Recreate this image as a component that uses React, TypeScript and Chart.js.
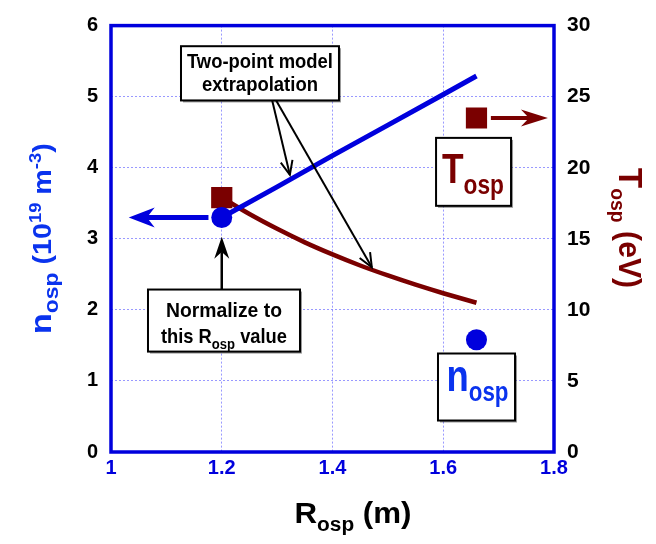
import React, { useEffect, useRef } from 'react';
import { Chart, registerables } from 'chart.js';

Chart.register(...registerables);

// ---------- data ----------
const xTickValues = [1, 1.2, 1.4, 1.6, 1.8];
const nTickValues = [0, 1, 2, 3, 4, 5, 6];
const tTickValues = [0, 5, 10, 15, 20, 25, 30];

// two-point model extrapolation, density (left axis, 1e19 m^-3)
const densLineR = [1.2, 1.3, 1.4, 1.5, 1.6, 1.66];
const densLineN = [3.3, 3.73, 4.17, 4.6, 5.03, 5.29];

// two-point model extrapolation, temperature (right axis, eV)
const tempCurveR = [1.2, 1.25, 1.3, 1.35, 1.4, 1.45, 1.5, 1.55, 1.6, 1.66];
const tempCurveT = [17.9, 16.74, 15.7, 14.75, 13.9, 13.12, 12.42, 11.77, 11.17, 10.5];

// measured / normalisation points
const densPointR = [1.2, 1.66];
const densPointN = [3.3, 1.58];
const tempPointR = [1.2, 1.66];
const tempPointT = [17.9, 23.5];

// ---------- styling ----------
const FONT = '"Liberation Sans", Arial, Helvetica, sans-serif';
const BLUE = '#0000dd';
const TEXTBLUE = '#0a33ee';
const MAROON = '#7a0000';
const GRID = 'rgba(110,110,255,0.7)';

type Run = { t: string; size: number; dy?: number };

function drawRich(
  ctx: CanvasRenderingContext2D,
  runs: Run[],
  x: number,
  y: number,
  color: string,
  angle = 0,
  fit?: number,
  kv = 1
) {
  ctx.save();
  let W = 0;
  const ws = runs.map((r) => {
    ctx.font = `bold ${r.size}px ${FONT}`;
    const w = ctx.measureText(r.t).width;
    W += w;
    return w;
  });
  const s = fit ? fit / W : 1;
  ctx.translate(x, y);
  ctx.rotate(angle);
  ctx.scale(s, kv);
  ctx.fillStyle = color;
  ctx.textAlign = 'left';
  ctx.textBaseline = 'alphabetic';
  let cx = -W / 2;
  runs.forEach((r, i) => {
    ctx.font = `bold ${r.size}px ${FONT}`;
    ctx.fillText(r.t, cx, r.dy || 0);
    cx += ws[i];
  });
  ctx.restore();
}

function arrow(
  ctx: CanvasRenderingContext2D,
  x1: number,
  y1: number,
  x2: number,
  y2: number,
  color: string,
  lw: number,
  hl: number,
  hw: number,
  open = false
) {
  const a = Math.atan2(y2 - y1, x2 - x1);
  ctx.save();
  ctx.strokeStyle = color;
  ctx.fillStyle = color;
  ctx.lineWidth = lw;
  const back = open ? 0 : hl * 0.7;
  ctx.beginPath();
  ctx.moveTo(x1, y1);
  ctx.lineTo(x2 - Math.cos(a) * back, y2 - Math.sin(a) * back);
  ctx.stroke();
  ctx.translate(x2, y2);
  ctx.rotate(a);
  ctx.beginPath();
  if (open) {
    ctx.moveTo(-hl, -hw);
    ctx.lineTo(0, 0);
    ctx.lineTo(-hl, hw);
    ctx.stroke();
  } else {
    ctx.moveTo(0, 0);
    ctx.lineTo(-hl, -hw);
    ctx.lineTo(-hl * 0.7, 0);
    ctx.lineTo(-hl, hw);
    ctx.closePath();
    ctx.fill();
  }
  ctx.restore();
}

function box(ctx: CanvasRenderingContext2D, x1: number, y1: number, x2: number, y2: number) {
  ctx.save();
  ctx.fillStyle = 'rgba(0,0,0,0.4)';
  ctx.fillRect(x1 + 2, y1 + 2, x2 - x1, y2 - y1);
  ctx.fillStyle = '#ffffff';
  ctx.fillRect(x1, y1, x2 - x1, y2 - y1);
  ctx.strokeStyle = '#000000';
  ctx.lineWidth = 2;
  ctx.strokeRect(x1, y1, x2 - x1, y2 - y1);
  ctx.restore();
}

const framePlugin = {
  id: 'frame',
  beforeDatasetsDraw(chart: any) {
    const { ctx, chartArea: a } = chart;
    ctx.save();
    ctx.strokeStyle = BLUE;
    ctx.lineWidth = 3.5;
    ctx.strokeRect(a.left, a.top, a.right - a.left, a.bottom - a.top);
    ctx.restore();
  },
};

const annotationPlugin = {
  id: 'annotations',
  afterDatasetsDraw(chart: any) {
    const ctx: CanvasRenderingContext2D = chart.ctx;
    const X = (v: number) => chart.scales.x.getPixelForValue(v);
    const Y = (v: number) => chart.scales.y.getPixelForValue(v);
    const YT = (v: number) => chart.scales.y1.getPixelForValue(v);

    // arrows showing which axis each point belongs to
    arrow(ctx, X(1.176), Y(densPointN[0]), X(1.032), Y(densPointN[0]), BLUE, 5, 26, 10);
    arrow(ctx, X(1.686), YT(tempPointT[1]), X(1.789), YT(tempPointT[1]), MAROON, 4, 27, 8.5);

    // "Two-point model extrapolation" box and leaders
    arrow(ctx, X(1.291), Y(4.95), X(1.323), Y(3.9), '#000', 2, 14, 6, true);
    arrow(ctx, X(1.298), Y(4.95), X(1.471), Y(2.6), '#000', 2, 14, 6, true);
    box(ctx, X(1.1264), Y(5.71), X(1.4117), Y(4.947));
    drawRich(ctx, [{ t: 'Two-point model', size: 21 }], X(1.269), Y(5.41), '#000', 0, 146);
    drawRich(ctx, [{ t: 'extrapolation', size: 21 }], X(1.269), Y(5.075), '#000', 0, 116);

    // "Normalize to this R_osp value" box and arrow
    arrow(ctx, X(1.2), Y(2.286), X(1.2), Y(3.03), '#000', 2.5, 22, 7.5);
    box(ctx, X(1.0668), Y(2.286), X(1.3413), Y(1.413));
    drawRich(ctx, [{ t: 'Normalize to', size: 21 }], X(1.204), Y(1.9), '#000', 0, 116);
    drawRich(
      ctx,
      [
        { t: 'this R', size: 21 },
        { t: 'osp', size: 15, dy: 6 },
        { t: ' value', size: 21 },
      ],
      X(1.204),
      Y(1.53),
      '#000',
      0,
      126
    );

    // T_osp label box
    box(ctx, X(1.587), Y(4.42), X(1.7224), Y(3.464));
    drawRich(
      ctx,
      [
        { t: 'T', size: 42 },
        { t: 'osp', size: 27, dy: 11 },
      ],
      X(1.6537),
      Y(3.78),
      MAROON,
      0,
      62
    );

    // n_osp label box
    box(ctx, X(1.5905), Y(1.386), X(1.7296), Y(0.443));
    drawRich(
      ctx,
      [
        { t: 'n', size: 44 },
        { t: 'osp', size: 27, dy: 10 },
      ],
      X(1.6618),
      Y(0.86),
      TEXTBLUE,
      0,
      62
    );
  },
  afterDraw(chart: any) {
    const ctx: CanvasRenderingContext2D = chart.ctx;
    const a = chart.chartArea;
    // left axis title
    drawRich(
      ctx,
      [
        { t: 'n', size: 30 },
        { t: 'osp', size: 20, dy: 7 },
        { t: ' (10', size: 25 },
        { t: '19', size: 16, dy: -10 },
        { t: ' m', size: 25 },
        { t: '-3', size: 16, dy: -10 },
        { t: ')', size: 25 },
      ],
      51,
      (a.top + a.bottom) / 2,
      TEXTBLUE,
      -Math.PI / 2,
      191
    );
    // right axis title
    drawRich(
      ctx,
      [
        { t: 'T', size: 34 },
        { t: 'osp', size: 20, dy: 8 },
        { t: ' (eV)', size: 31 },
      ],
      619,
      228,
      MAROON,
      Math.PI / 2,
      120
    );
    // x axis title
    drawRich(
      ctx,
      [
        { t: 'R', size: 30 },
        { t: 'osp', size: 20, dy: 8 },
        { t: ' (m)', size: 30 },
      ],
      353,
      523,
      '#000',
      0,
      117
    );
  },
};

export default function App() {
  const ref = useRef<HTMLCanvasElement | null>(null);

  useEffect(() => {
    if (!ref.current) return;
    const chart = new Chart(ref.current, {
      type: 'scatter',
      data: {
        datasets: [
          {
            label: 'n points',
            data: densPointR.map((r, i) => ({ x: r, y: densPointN[i] })),
            yAxisID: 'y',
            pointRadius: 10.5,
            pointBackgroundColor: BLUE,
            pointBorderWidth: 0,
            showLine: false,
          },
          {
            label: 'T points',
            data: tempPointR.map((r, i) => ({ x: r, y: tempPointT[i] })),
            yAxisID: 'y1',
            pointStyle: 'rect',
            pointRadius: 15,
            pointBackgroundColor: MAROON,
            pointBorderWidth: 0,
            showLine: false,
          },
          {
            label: 'n extrapolation',
            data: densLineR.map((r, i) => ({ x: r, y: densLineN[i] })),
            yAxisID: 'y',
            showLine: true,
            borderColor: BLUE,
            borderWidth: 5,
            pointRadius: 0,
            tension: 0,
          },
          {
            label: 'T extrapolation',
            data: tempCurveR.map((r, i) => ({ x: r, y: tempCurveT[i] })),
            yAxisID: 'y1',
            showLine: true,
            borderColor: MAROON,
            borderWidth: 4.5,
            pointRadius: 0,
            tension: 0.3,
          },
        ],
      },
      options: {
        animation: false,
        responsive: false,
        devicePixelRatio: 1,
        layout: { padding: { top: 19, left: 0, right: 0, bottom: 0 } },
        plugins: {
          legend: { display: false },
          tooltip: { enabled: false },
        },
        scales: {
          x: {
            type: 'linear',
            min: 1,
            max: 1.8,
            afterBuildTicks: (s: any) => {
              s.ticks = xTickValues.map((v) => ({ value: v }));
            },
            afterFit: (s: any) => {
              s.height = 92;
            },
            ticks: {
              color: BLUE,
              font: { family: FONT, size: 20, weight: 'bold' as const },
              padding: 4,
              callback: (v: any) => String(v),
            },
            grid: { color: GRID, lineWidth: 1, drawTicks: false },
            border: { display: false, dash: [2, 2] },
          },
          y: {
            type: 'linear',
            position: 'left',
            min: 0,
            max: 6,
            afterBuildTicks: (s: any) => {
              s.ticks = nTickValues.map((v) => ({ value: v }));
            },
            afterFit: (s: any) => {
              s.width = 111;
            },
            ticks: {
              color: '#000',
              font: { family: FONT, size: 20, weight: 'bold' as const },
              padding: 13,
              callback: (v: any) => String(v),
            },
            grid: { color: GRID, lineWidth: 1, drawTicks: false },
            border: { display: false, dash: [2, 2] },
          },
          y1: {
            type: 'linear',
            position: 'right',
            min: 0,
            max: 30,
            afterBuildTicks: (s: any) => {
              s.ticks = tTickValues.map((v) => ({ value: v }));
            },
            afterFit: (s: any) => {
              s.width = 102;
            },
            ticks: {
              color: '#000',
              font: { family: FONT, size: 21, weight: 'bold' as const },
              padding: 13,
              callback: (v: any) => String(v),
            },
            grid: { drawOnChartArea: false, drawTicks: false },
            border: { display: false },
          },
        },
      },
      plugins: [framePlugin, annotationPlugin],
    });
    return () => chart.destroy();
  }, []);

  return (
    <div style={{ position: 'absolute', left: 0, top: 0, width: 656, height: 544, background: '#fff' }}>
      <canvas ref={ref} width={656} height={544} style={{ width: 656, height: 544, display: 'block' }} />
    </div>
  );
}
